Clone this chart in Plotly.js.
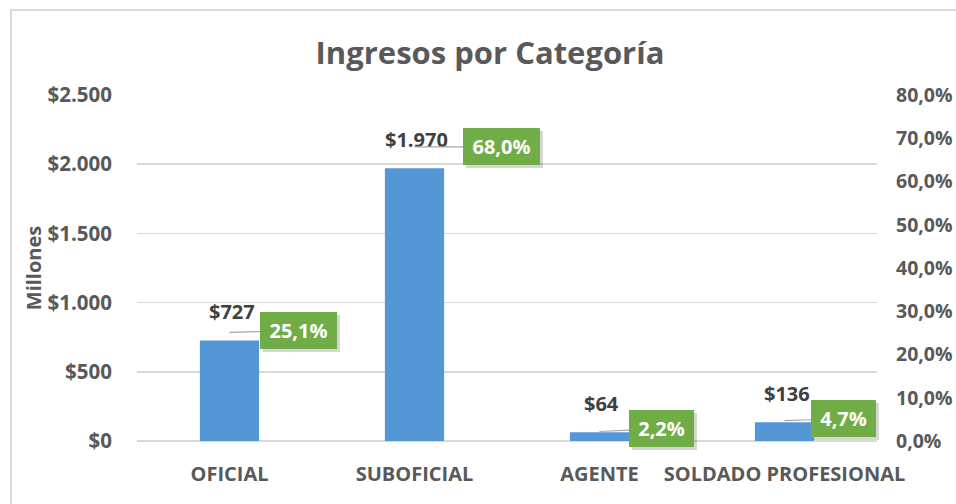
<!DOCTYPE html>
<html>
<head>
<meta charset="utf-8">
<script src="https://cdn.plot.ly/plotly-3.0.1.min.js"></script>
<style>
  html, body { margin: 0; padding: 0; background: #fff; }
  #chart { width: 956px; height: 504px; }
  #frame { position: absolute; left: 10px; top: 9px; width: 960px; height: 500px;
           border-left: 2px solid #d9d9d9; border-top: 2px solid #d9d9d9; pointer-events: none; }
</style>
</head>
<body>
<div id="chart"></div>
<div id="frame"></div>
<script>
// ---- data ----
const categories = ["OFICIAL", "SUBOFICIAL", "AGENTE", "SOLDADO PROFESIONAL"];
const ingresos = [727, 1970, 64, 136];          // millones
const porcentaje = [0.251, 0.680, 0.022, 0.047];  // share
const leftTicks = [0, 500, 1000, 1500, 2000, 2500];
const leftTickText = ["$0", "$500", "$1.000", "$1.500", "$2.000", "$2.500"];
const rightTicks = [0, 0.1, 0.2, 0.3, 0.4, 0.5, 0.6, 0.7, 0.8];

// ---- style ----
const FONT = "'Open Sans', sans-serif";
const GREY = "#595959";
const boxShift = [[69, -2], [87, 0], [62, -3], [59, -2]]; // label box offsets (px)
const PCT_SIZE = 20;
const BOX_H = 27;

const canvas = document.createElement("canvas");
const ctx = canvas.getContext("2d");
ctx.font = "bold " + PCT_SIZE + "px 'Open Sans'";

const idx = categories.map((c, i) => i);

const traces = [
  {
    type: "bar", x: idx, y: ingresos, yaxis: "y",
    marker: { color: "#5496d6" },
    hoverinfo: "skip", showlegend: false
  },
  {
    type: "scatter", mode: "markers", x: idx, y: porcentaje, yaxis: "y2",
    marker: { opacity: 0, size: 1 }, hoverinfo: "skip", showlegend: false
  }
];

const annotations = [];
idx.forEach(i => {
  annotations.push({
    x: i, y: ingresos[i], xref: "x", yref: "y",
    text: "$" + ingresos[i].toLocaleString("de-DE"),
    showarrow: false, yanchor: "bottom", yshift: 13, xshift: 2,
    font: { family: FONT, size: 20, color: "#404040", weight: "bold" }
  });
  const pctText = (porcentaje[i] * 100).toFixed(1).replace(".", ",") + "%";
  const w = Math.ceil(ctx.measureText(pctText).width) + 8;
  // shadow (no text)
  annotations.push({
    x: i, y: porcentaje[i], xref: "x", yref: "y2",
    text: " ", showarrow: false, width: w, height: BOX_H,
    xshift: boxShift[i][0] + 3, yshift: -boxShift[i][1] - 3,
    bgcolor: "rgba(0,0,0,0.16)", borderpad: 5, borderwidth: 0,
    font: { family: FONT, size: PCT_SIZE, color: "rgba(0,0,0,0)" }
  });
  annotations.push({
    x: i, y: porcentaje[i], xref: "x", yref: "y2",
    text: pctText, showarrow: true, arrowhead: 0, arrowwidth: 1.2,
    width: w, height: BOX_H,
    arrowcolor: "#a6a6a6", ax: boxShift[i][0], ay: boxShift[i][1],
    bgcolor: "#70ad47", borderpad: 5, borderwidth: 0,
    font: { family: FONT, size: PCT_SIZE, color: "#ffffff", weight: "bold" }
  });
});

const layout = {
  width: 956, height: 504,
  margin: { l: 137, r: 79, t: 95, b: 63 },
  paper_bgcolor: "#ffffff", plot_bgcolor: "#ffffff",
  separators: ",.",
  bargap: 0.68,
  title: {
    text: "Ingresos por Categoría",
    x: 490 / 956, xref: "container", xanchor: "center",
    y: 1 - 53 / 504, yref: "container", yanchor: "middle",
    font: { family: FONT, size: 31, color: GREY, weight: "bold" }
  },
  xaxis: {
    tickmode: "array", tickvals: idx, ticktext: categories,
    range: [-0.5, categories.length - 0.5],
    showgrid: false, zeroline: false, showline: false, ticks: "",
    ticklabelstandoff: 19,
    tickfont: { family: FONT, size: 20, color: GREY, weight: "bold" }
  },
  yaxis: {
    range: [0, 2500], tickmode: "array", tickvals: leftTicks, ticktext: leftTickText,
    showgrid: true, gridcolor: "#d9d9d9", gridwidth: 1.5,
    zeroline: true, zerolinecolor: "#d9d9d9", zerolinewidth: 1.5,
    showline: false, ticks: "", ticklabelstandoff: 24,
    tickfont: { family: FONT, size: 20.5, color: GREY, weight: "bold" },
    title: { text: "Millones", standoff: 0,
             font: { family: FONT, size: 20, color: GREY, weight: "bold" } }
  },
  yaxis2: {
    overlaying: "y", side: "right",
    range: [0, 0.8], tickmode: "array", tickvals: rightTicks,
    tickformat: ".1%", showgrid: false, zeroline: false, showline: false,
    ticks: "", ticklabelstandoff: 18,
    tickfont: { family: FONT, size: 19.5, color: GREY, weight: "bold" }
  },
  annotations: annotations,
  showlegend: false
};

Plotly.newPlot("chart", traces, layout, { displayModeBar: false, staticPlot: true });
</script>
</body>
</html>
